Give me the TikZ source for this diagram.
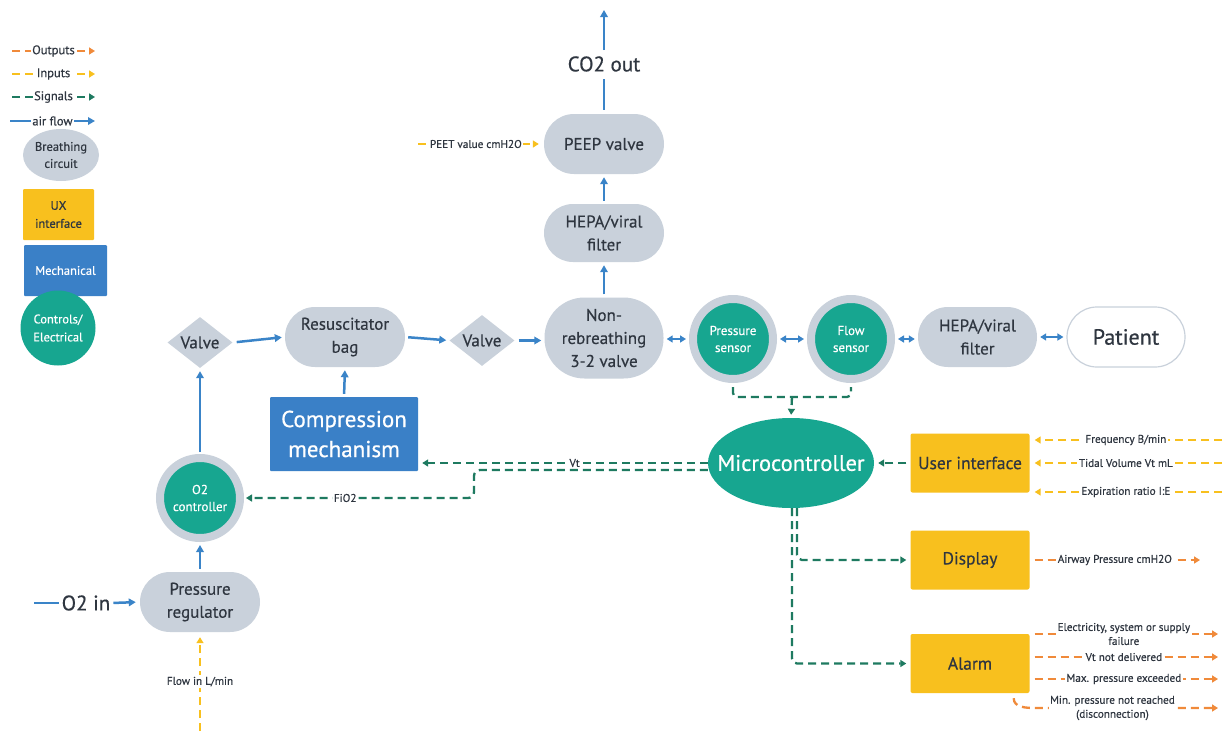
\documentclass[tikz,border=0pt]{standalone}
\usepackage{fontspec}
\setmainfont{PT Sans}[FakeBold=0.5]
\usetikzlibrary{arrows.meta,shapes.geometric,calc}
\definecolor{gfill}{HTML}{C9D1DB}
\definecolor{cteal}{HTML}{17A690}
\definecolor{cyel}{HTML}{F8C01E}
\definecolor{cblue}{HTML}{3A80C7}
\definecolor{cair}{HTML}{3A84C8}
\definecolor{csig}{HTML}{1E7A60}
\definecolor{cout}{HTML}{F08A3A}
\definecolor{cin}{HTML}{F8C01E}
\definecolor{ctext}{HTML}{2F3640}
\definecolor{cring}{HTML}{C9D1DB}
\tikzset{
 pill/.style={fill=gfill, text=ctext, align=center, inner sep=0pt, font=\fontsize{17}{23}\selectfont},
 uxbox/.style={fill=cyel, text=ctext, rounded corners=2pt, minimum width=119pt, minimum height=59pt, inner sep=0pt, font=\fontsize{17.5}{20}\selectfont},
 sensor/.style={circle, fill=cteal, draw=cring, line width=8pt, minimum size=80pt, inner sep=0pt, text=white, align=center, font=\fontsize{13}{17}\selectfont},
 valvebox/.style={diamond, fill=gfill, minimum width=65pt, minimum height=48pt, inner sep=0pt, text=ctext, font=\fontsize{17}{18}\selectfont},
 air/.style={draw=cair, line width=2.5pt, -{Triangle[length=7pt,width=7.5pt]}, shorten >=3pt, shorten <=3pt},
 air2/.style={air, {Triangle[length=6pt,width=7pt]}-{Triangle[length=6pt,width=7pt]}},
 sig/.style={draw=csig, line width=2.3pt, dash pattern=on 8pt off 5pt, -{Triangle[length=6pt,width=7pt]}},
 inp/.style={sig, draw=cin},
 outp/.style={sig, draw=cout},
 lbl/.style={fill=white, inner sep=1.5pt, text=ctext, font=\fontsize{11.2}{13}\selectfont},
 leglbl/.style={lbl, font=\fontsize{12.5}{14}\selectfont},
 bigtxt/.style={text=ctext, inner sep=1pt, font=\fontsize{21}{24}\selectfont},
}
\begin{document}
\begin{tikzpicture}[x=1pt,y=-1pt]
\useasboundingbox (0,0) rectangle (1224,734);
\fill[white] (0,0) rectangle (1224,734);

% ---------- legend ----------
\coordinate (lo1) at (12,51);  \coordinate (lo2) at (95,51);
\coordinate (li1) at (12,74);  \coordinate (li2) at (95,74);
\coordinate (ls1) at (12,97);  \coordinate (ls2) at (95,97);
\coordinate (la1) at (10,121); \coordinate (la2) at (95,121);
\draw[outp] (lo1) -- node[leglbl]{Outputs} (lo2);
\draw[inp] (li1) -- node[leglbl]{Inputs} (li2);
\draw[sig] (ls1) -- node[leglbl]{Signals} (ls2);
\draw[air, shorten <=0pt, shorten >=0pt] (la1) -- node[leglbl]{air flow} (la2);
\node[ellipse, fill=gfill, minimum width=76pt, minimum height=52pt, inner sep=0pt, text=ctext, align=center, font=\fontsize{12.5}{17}\selectfont] (lg1) at (61,155) {Breathing\\circuit};
\node[fill=cyel, minimum width=71pt, minimum height=51pt, rounded corners=1pt, inner sep=0pt, text=ctext, align=center, font=\fontsize{12.5}{18}\selectfont] (lg2) at (58.5,214.5) {UX\\interface};
\node[fill=cblue, minimum width=83pt, minimum height=51pt, rounded corners=1pt, inner sep=0pt, text=white, font=\fontsize{12.5}{14}\selectfont] (lg3) at (65.5,270.5) {Mechanical};
\node[circle, fill=cteal, minimum size=75pt, inner sep=0pt, text=white, align=center, font=\fontsize{12.5}{18}\selectfont] (lg4) at (58,328) {Controls/\\Electrical};

% ---------- main nodes ----------
\node[bigtxt] (co2) at (604,64) {CO2 out};
\coordinate (top) at (604,10);
\node[pill, minimum width=120pt, minimum height=60pt, rounded corners=30pt] (peep) at (604,144) {PEEP valve};
\node[pill, minimum width=120pt, minimum height=58pt, rounded corners=29pt] (hepa1) at (604,233) {HEPA/viral\\filter};
\node[pill, minimum width=119pt, minimum height=81pt, rounded corners=40pt] (nrb) at (604,338) {Non-\\rebreathing\\3-2 valve};
\node[valvebox] (v1) at (200,342.5) {Valve};
\node[pill, minimum width=120pt, minimum height=60pt, rounded corners=30pt] (bag) at (345,337) {Resuscitator\\bag};
\node[valvebox] (v2) at (482,340.5) {Valve};
\node[fill=cblue, minimum width=148pt, minimum height=74pt, rounded corners=1pt, inner sep=0pt, text=white, align=center, font=\fontsize{23}{30}\selectfont] (comp) at (344,434) {Compression\\mechanism};
\node[sensor] (ps) at (733,339) {Pressure\\sensor};
\node[sensor] (fs) at (851,339) {Flow\\sensor};
\node[pill, minimum width=119pt, minimum height=60pt, rounded corners=30pt] (hepa2) at (977.5,337) {HEPA/viral\\filter};
\node[fill=white, draw=gfill, line width=1.2pt, minimum width=118pt, minimum height=60pt, rounded corners=30pt, inner sep=0pt, text=ctext, font=\fontsize{22}{24}\selectfont] (pat) at (1126,337) {Patient};
\node[ellipse, fill=cteal, minimum width=166pt, minimum height=90pt, inner xsep=-16pt, inner ysep=0pt, text=white, font=\fontsize{22.5}{24}\selectfont] (micro) at (791,463) {Microcontroller};
\node[uxbox] (ui) at (970,463) {User interface};
\node[uxbox] (disp) at (970,560) {Display};
\node[uxbox] (alarm) at (970,663.5) {Alarm};
\node[sensor] (o2c) at (200,498) {O2\\controller};
\node[pill, minimum width=120pt, minimum height=60pt, rounded corners=30pt] (pr) at (200,602) {Pressure\\regulator};
\node[bigtxt] (o2in) at (86,603) {O2 in};
\coordinate (o2s) at (34,603);

% ---------- air flow ----------
\draw[air, -, shorten <=4pt, shorten >=6pt] (peep.north) -- (co2.south);
\draw[air, shorten <=5pt, shorten >=0pt] (co2.north) -- (top);
\draw[air] (hepa1.north) -- (peep.south);
\draw[air] (nrb.north) -- (hepa1.south);
\draw[air, shorten <=4pt] (v1.east) -- (bag.west);
\draw[air] (bag.east) -- (v2.west);
\draw[air, shorten <=4pt] (v2.east) -- (v2.east -| nrb.west);
\draw[air] (comp.north) -- (bag.south);
\draw[air2] (nrb.east |- ps.west) -- (ps.west);
\draw[air2] (ps.east) -- (fs.west);
\draw[air2] (fs.east) -- (fs.east -| hepa2.west);
\draw[air2] (hepa2.east) -- (pat.west);
\draw[air, shorten <=2pt] (o2c.north) -- (v1.south);
\draw[air] (pr.north) -- (o2c.south);
\draw[air, -, shorten <=0pt, shorten >=2pt] (o2s) -- (o2in.west);
\draw[air, shorten <=2pt, shorten >=4pt] (o2in.east) -- (pr.west);

% ---------- inputs ----------
\coordinate (pe) at (418,144);
\draw[inp, shorten >=5pt] (pe) -- node[lbl, pos=0.46]{PEET value cmH2O} (peep.west);
\coordinate (fl) at (200,731);
\draw[inp, shorten >=5pt] (fl) -- node[lbl]{Flow in L/min} (pr.south);
\coordinate (fq) at (1222,440);
\coordinate (tv) at (1222,463);
\coordinate (er) at (1222,492);
\draw[inp, shorten >=5pt] (fq) -- node[lbl]{Frequency B/min} (fq -| ui.east);
\draw[inp, shorten >=5pt] (tv) -- node[lbl]{Tidal Volume Vt mL} (tv -| ui.east);
\draw[inp, shorten >=5pt] (er) -- node[lbl]{Expiration ratio I:E} (er -| ui.east);

% ---------- signals ----------
\coordinate (brk) at (792,397);
\draw[sig, -, rounded corners=4pt, shorten <=4pt, shorten >=4pt] (ps.south) -- (ps.south |- brk) -- (fs.south |- brk) -- (fs.south);
\draw[sig, shorten >=3pt] (brk) -- (micro.north);
\draw[sig, shorten <=4pt, shorten >=4pt] (ui.west) -- (micro.east);
\draw[sig, shorten >=4pt] (micro.west) -- node[lbl, inner sep=1pt, pos=0.46]{Vt} (comp.east |- micro.west);
\coordinate (fk) at (474,498);
\draw[sig, rounded corners=6pt, shorten >=2pt] ([yshift=-7pt]micro.west) -| (fk) -- node[lbl, pos=0.56]{FiO2} (o2c.east);
\draw[sig, rounded corners=5pt, shorten >=4pt] ([xshift=6pt]micro.south) |- (disp.west);
\draw[sig, rounded corners=5pt, shorten >=4pt] ([xshift=1pt]micro.south) |- (alarm.west);

% ---------- outputs ----------
\coordinate (ap) at (1200,560);
\draw[outp, shorten <=5pt] (disp.east) -- node[lbl]{Airway Pressure cmH2O} (ap);
\coordinate (a1) at (1218,634);
\coordinate (a2) at (1218,657);
\coordinate (a3) at (1218,679);
\coordinate (a4) at (1218,708);
\coordinate (mc) at (1036,708);
\draw[outp, shorten <=5pt] (alarm.east |- a1) -- node[lbl, align=center, font=\fontsize{11.2}{14}\selectfont]{Electricity, system or supply\\failure} (a1);
\draw[outp, shorten <=5pt] (alarm.east |- a2) -- node[lbl]{Vt not delivered} (a2);
\draw[outp, shorten <=5pt] (alarm.east |- a3) -- node[lbl]{Max. pressure exceeded} (a3);
\draw[outp] ([xshift=-16pt,yshift=-5pt]alarm.south east) to[out=-90,in=180] (mc) -- node[lbl, pos=0.42, align=center, font=\fontsize{11.2}{14}\selectfont]{Min. pressure not reached\\(disconnection)} (a4);
\end{tikzpicture}
\end{document}
